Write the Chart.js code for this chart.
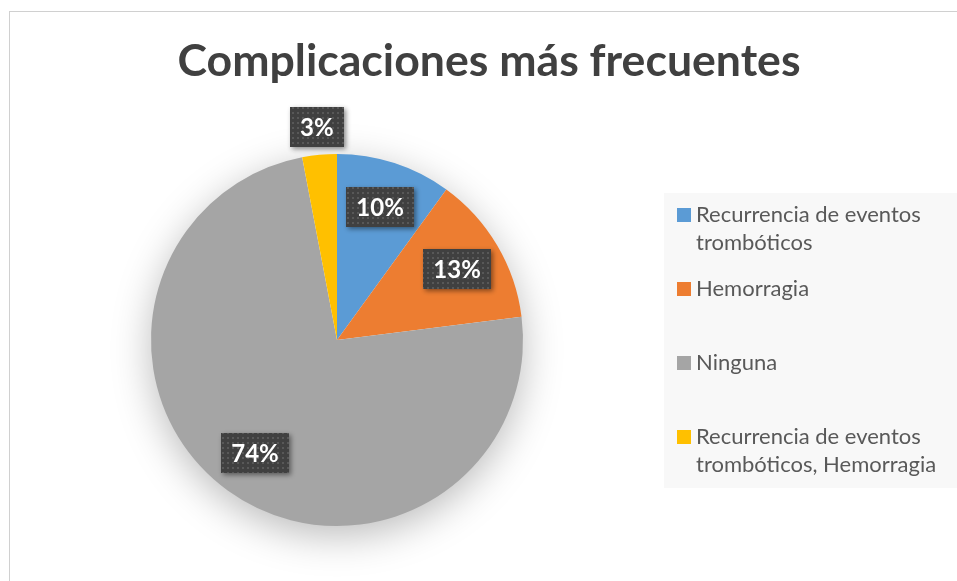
<!DOCTYPE html>
<html>
<head>
<meta charset="utf-8">
<script src="https://cdn.jsdelivr.net/npm/chart.js@4.4.1/dist/chart.umd.min.js"></script>
<style>
    html, body { margin: 0; padding: 0; background: #ffffff; }
    #chart { display: block; }
</style>
</head>
<body>
<canvas id="chart" width="957" height="581"></canvas>
<script>
// --- Data ---
const chartTitle = 'Complicaciones más frecuentes';
const categories = [
    'Recurrencia de eventos trombóticos',
    'Hemorragia',
    'Ninguna',
    'Recurrencia de eventos trombóticos, Hemorragia'
];
const percentages = [10, 13, 74, 3];
const sliceColors = ['#5B9BD5', '#ED7D31', '#A5A5A5', '#FFC000'];

const FONT = 'Lato, "Open Sans", sans-serif';

// dotted dark fill for the data labels
function makeDotPattern(ctx) {
    const c = document.createElement('canvas');
    c.width = 5; c.height = 5;
    const p = c.getContext('2d');
    p.fillStyle = '#404040';
    p.fillRect(0, 0, 5, 5);
    p.fillStyle = '#585858';
    p.fillRect(2, 2, 2, 2);
    return ctx.createPattern(c, 'repeat');
}

function wrapWords(ctx, text, maxWidth) {
    const words = text.split(' ');
    const lines = [];
    let line = '';
    words.forEach(w => {
        const test = line ? line + ' ' + w : w;
        if (ctx.measureText(test).width > maxWidth && line) {
            lines.push(line);
            line = w;
        } else {
            line = test;
        }
    });
    if (line) lines.push(line);
    return lines;
}

// --- Decorations: frame, title, legend, shadow, labels ---
const excelLook = {
    id: 'excelLook',
    beforeDraw(chart) {
        const ctx = chart.ctx;
        ctx.save();
        ctx.fillStyle = '#ffffff';
        ctx.fillRect(0, 0, chart.width, chart.height);

        // chart frame (runs off the right/bottom edges)
        ctx.strokeStyle = '#d0d0d0';
        ctx.lineWidth = 1;
        ctx.strokeRect(9.5, 11.5, chart.width + 20, chart.height + 20);

        // title
        ctx.fillStyle = '#404040';
        ctx.font = 'bold 44.6px ' + FONT;
        ctx.textAlign = 'center';
        ctx.textBaseline = 'alphabetic';
        ctx.fillText(chartTitle, 489, 76);

        // legend
        ctx.fillStyle = '#f8f8f8';
        ctx.fillRect(664, 193, chart.width, 295);
        ctx.font = '22px ' + FONT;
        ctx.textAlign = 'left';
        ctx.textBaseline = 'middle';
        const ds = chart.data.datasets[0];
        chart.data.labels.forEach((lab, i) => {
            const y0 = 215 + i * 74;
            ctx.fillStyle = ds.backgroundColor[i];
            ctx.fillRect(677, y0 - 7, 14, 14);
            ctx.fillStyle = '#595959';
            wrapWords(ctx, lab, 258).forEach((ln, j) => {
                ctx.fillText(ln, 696, y0 + j * 28);
            });
        });
        ctx.restore();
    },
    beforeDatasetsDraw(chart) {
        const arc = chart.getDatasetMeta(0).data[0];
        if (!arc) return;
        const ctx = chart.ctx;
        ctx.save();
        ctx.shadowColor = 'rgba(0,0,0,0.28)';
        ctx.shadowBlur = 40;
        ctx.shadowOffsetY = 10;
        ctx.fillStyle = '#ffffff';
        ctx.beginPath();
        ctx.arc(arc.x, arc.y, arc.outerRadius - 1, 0, Math.PI * 2);
        ctx.fill();
        ctx.restore();
    },
    afterDatasetsDraw(chart) {
        const ctx = chart.ctx;
        const meta = chart.getDatasetMeta(0);
        const values = chart.data.datasets[0].data;
        const total = values.reduce((a, b) => a + b, 0);
        const pattern = makeDotPattern(ctx);
        ctx.save();
        ctx.font = 'bold 24px ' + FONT;
        ctx.textAlign = 'center';
        ctx.textBaseline = 'middle';
        meta.data.forEach((arc, i) => {
            const share = values[i] / total;
            const mid = (arc.startAngle + arc.endAngle) / 2;
            const f = share < 0.05 ? 1.15 : 0.75;
            const x = arc.x + Math.cos(mid) * arc.outerRadius * f;
            const y = arc.y + Math.sin(mid) * arc.outerRadius * f;
            const txt = Math.round(share * 100) + '%';
            const w = ctx.measureText(txt).width + 20;
            const h = 40;
            ctx.save();
            ctx.shadowColor = 'rgba(0,0,0,0.45)';
            ctx.shadowBlur = 5;
            ctx.shadowOffsetX = 2;
            ctx.shadowOffsetY = 2;
            ctx.fillStyle = pattern;
            ctx.fillRect(Math.round(x - w / 2), Math.round(y - h / 2), Math.round(w), h);
            ctx.restore();
            ctx.fillStyle = '#ffffff';
            ctx.fillText(txt, x, y + 1);
        });
        ctx.restore();
    }
};

new Chart(document.getElementById('chart'), {
    type: 'pie',
    data: {
        labels: categories,
        datasets: [{
            data: percentages,
            backgroundColor: sliceColors,
            borderWidth: 0
        }]
    },
    options: {
        responsive: false,
        devicePixelRatio: 1,
        animation: false,
        layout: { padding: { left: 151, right: 434, top: 154, bottom: 55 } },
        plugins: {
            legend: { display: false },
            title: { display: false },
            tooltip: { enabled: false }
        }
    },
    plugins: [excelLook]
});
</script>
</body>
</html>
